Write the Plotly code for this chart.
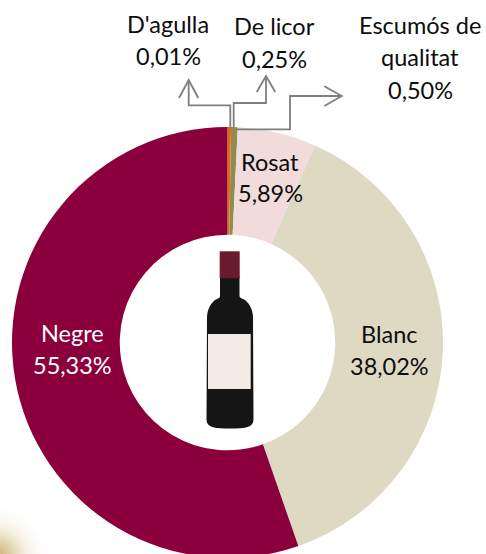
import plotly.graph_objects as go

# Data
categories = ["D'agulla", "De licor", "Escumós de qualitat", "Rosat", "Blanc", "Negre"]
values = [0.01, 0.25, 0.50, 5.89, 38.02, 55.33]
colors = ["#7F7F7F", "#E46C0A", "#948A54", "#F2DCDB", "#DDD9C3", "#8B003C"]
value_labels = ["0,01%", "0,25%", "0,50%", "5,89%", "38,02%", "55,33%"]

W, H = 486, 560
FONT = "Lato"
FS = 23.5
INK = "#0d0d0d"

def px(x):
    return x / W

def py(y):
    return 1 - y / H

fig = go.Figure(go.Pie(
    labels=categories, values=values, sort=False, direction="clockwise", rotation=0,
    hole=0.5, textinfo="none", hoverinfo="label+percent",
    marker=dict(colors=colors, line=dict(width=0)),
    domain=dict(x=[px(12), px(443)], y=[py(558), py(127)]),
    showlegend=False,
))

# Text lines: text, centre x, centre y, colour
text_lines = [
    (categories[0], 168, 24, INK), (value_labels[0], 168, 56, INK),
    (categories[1], 274, 26, INK), (value_labels[1], 274, 59, INK),
    ("Escumós de", 420, 25, INK), ("qualitat", 420, 57, INK), (value_labels[2], 420, 90, INK),
    (categories[3], 270, 162, INK), (value_labels[3], 270, 193, INK),
    (categories[4], 389, 334, INK), (value_labels[4], 389, 366, INK),
    (categories[5], 72, 333, "#ffffff"), (value_labels[5], 72, 365, "#ffffff"),
]
annotations = [
    dict(text=t, x=px(x), y=py(y), xref="paper", yref="paper", showarrow=False,
         xanchor="center", yanchor="middle", font=dict(family=FONT, size=FS, color=c))
    for t, x, y, c in text_lines
]

def path(points, close=False):
    d = "M " + " L ".join(f"{px(x):.5f} {py(y):.5f}" for x, y in points)
    return d + (" Z" if close else "")

GREY = "#7F7F7F"
leaders = [
    [(230.3, 128), (230.3, 105.3), (188.7, 105.3), (188.7, 80)],
    [(179, 98), (188.7, 80), (198.3, 98)],
    [(233.7, 128), (233.7, 103), (266, 103), (266, 76)],
    [(256.7, 92), (266, 76), (275.3, 92)],
    [(236.7, 129.3), (290, 129.3), (290, 96), (341.7, 96)],
    [(324.3, 86.3), (341.7, 96), (324.3, 106)],
]
shapes = [
    dict(type="path", xref="paper", yref="paper", path=path(p), line=dict(color=GREY, width=1.8))
    for p in leaders
]

# Soft golden smudge in the lower-left corner
for r, o in [(46, 0.015), (42, 0.02), (38, 0.025), (34, 0.03), (30, 0.04), (27, 0.05), (24, 0.06),
             (21, 0.07), (18, 0.08), (15, 0.09), (12, 0.1), (9, 0.12), (6, 0.14)]:
    shapes.append(dict(type="circle", xref="paper", yref="paper",
                       x0=px(-2 - r), x1=px(-2 + r), y0=py(556 + r), y1=py(556 - r),
                       fillcolor="#B8922A", opacity=o, line=dict(width=0)))

# Bottle drawing
def C(a, b, c):
    return f"C {px(a[0]):.5f} {py(a[1]):.5f} {px(b[0]):.5f} {py(b[1]):.5f} {px(c[0]):.5f} {py(c[1]):.5f}"

def L(p):
    return f"L {px(p[0]):.5f} {py(p[1]):.5f}"

bottle = " ".join([
    f"M {px(220):.5f} {py(276):.5f}", L((239.5, 276)), L((239.5, 296)),
    C((240, 299), (244, 298), (247, 302)), C((251, 306), (253, 312), (253, 318)),
    L((253.5, 420)), C((253, 428), (244, 428.5), (230, 428.5)),
    C((216, 428.5), (207, 428), (206.5, 420)), L((207, 318)),
    C((207, 312), (209, 306), (213, 302)), C((216, 298), (220, 299), (220, 296)), "Z",
])
shapes.append(dict(type="path", xref="paper", yref="paper", path=bottle, fillcolor="#151515", line=dict(width=0)))
shapes.append(dict(type="path", xref="paper", yref="paper",
                   path=path([(219.7, 251.3), (239.7, 251.3), (239.7, 278.3), (219.7, 278.3)], True),
                   fillcolor="#6B1A30", line=dict(width=0)))
shapes.append(dict(type="path", xref="paper", yref="paper",
                   path=path([(208, 334), (250.7, 334), (250.7, 389), (208, 389)], True),
                   fillcolor="#F2EBE6", line=dict(width=0)))

fig.update_layout(
    width=W, height=H, margin=dict(l=0, r=0, t=0, b=0, autoexpand=False),
    paper_bgcolor="white", annotations=annotations, shapes=shapes,
)

fig.write_html(
    "out.html",
    config={"displayModeBar": False, "responsive": False},
    post_script="document.documentElement.style.overflow='hidden';document.body.style.overflow='hidden';document.body.style.margin='0';",
)
